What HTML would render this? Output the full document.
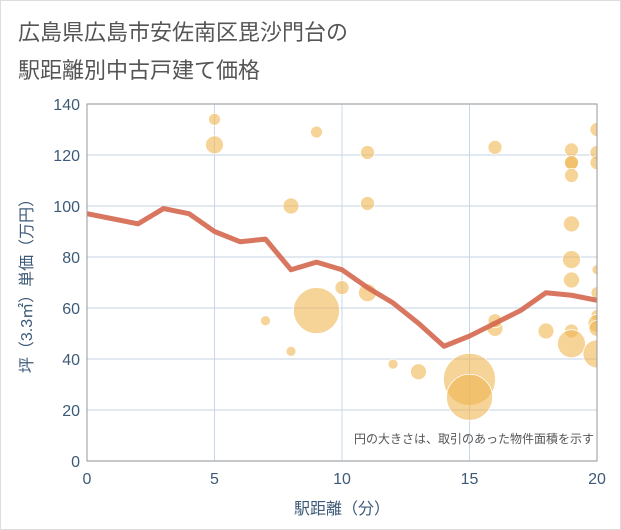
<!DOCTYPE html>
<html><head><meta charset="utf-8"><style>
body{margin:0;background:#fff;}
svg{display:block;font-family:"Liberation Sans","Noto Sans CJK JP",sans-serif;}
</style></head><body>
<svg width="621" height="530">
<rect x="0.5" y="0.5" width="620" height="529" fill="#fff" stroke="#ddd"/>
<text x="18" y="40" font-size="22" fill="#555">広島県広島市安佐南区毘沙門台の</text>
<text x="18" y="78" font-size="22" fill="#555">駅距離別中古戸建て価格</text>
<g id="grid"></g>
<g id="bubbles"></g>
<g id="line"></g>
<rect x="87" y="104" width="510" height="357" fill="none" stroke="#999"/>
<g id="ticks"></g>
<text x="594" y="443" font-size="12" fill="#555" text-anchor="end">円の大きさは、取引のあった物件面積を示す</text>
<text x="342" y="514" font-size="16" fill="#3d5a78" text-anchor="middle">駅距離（分）</text>
<text transform="translate(32,282) rotate(-90)" font-size="16" fill="#3d5a78" text-anchor="middle">坪（3.3㎡）単価（万円）</text>
</svg>
<script>
const xTicks=[0,5,10,15,20];
const yTicks=[0,20,40,60,80,100,120,140];
const lineX=[0,1,2,3,4,5,6,7,8,9,10,11,12,13,14,15,16,17,18,19,20];
const lineY=[97,95,93,99,97,90,86,87,75,78,75,68,62,54,45,49,54,59,66,65,63];
const bubX=[5,5,9,8,7,9,8,10,11,11,11,12,13,15,15,16,16,16,18,19,19,19,19,19,19,19,19,19,20,20,20,20,20,20,20,20,20];
const bubY=[134,124,129,100,55,59,43,68,121,101,66,38,35,32,25,123,52,55,51,122,117,117,112,93,79,71,51,46,130,121,117,75,66,57,54,52,42];
const bubS=[6,9,6,8,5,23,5,7,7,7,9,5,8,26,23,7,8,7,8,7,7,7,7,8,9,8,7,14,7,7,7,5,6,6,9,8,14];
const NS='http://www.w3.org/2000/svg';
const sx=v=>87+v*25.5, sy=v=>461-v*2.55;
function mk(t,a,p){const e=document.createElementNS(NS,t);for(const k in a)e.setAttribute(k,a[k]);p.appendChild(e);return e;}
const grid=document.getElementById('grid'),ticks=document.getElementById('ticks');
yTicks.forEach(v=>{
 const l=mk('line',{x1:87,x2:597,y1:sy(v),y2:sy(v),stroke:'#d0dce8','stroke-width':1.2},grid);
 
 
 const t=mk('text',{x:80,y:sy(v)+6,'font-size':16,fill:'#3d5a78','text-anchor':'end'},ticks);t.textContent=v;
 
 
});
xTicks.forEach(v=>{
 const l=mk('line',{x1:sx(v),x2:sx(v),y1:104,y2:461,stroke:'#c8d8e8','stroke-width':1},grid);
 
 
 const t=mk('text',{x:sx(v),y:484,'font-size':16,fill:'#3d5a78','text-anchor':'middle'},ticks);t.textContent=v;
 
 
});
const bg=document.getElementById('bubbles');
mk('clipPath',{id:'clip'},bg).appendChild(document.createElementNS(NS,'rect'));
const cr=bg.querySelector('clipPath rect');cr.setAttribute('x',87);cr.setAttribute('y',104);cr.setAttribute('width',510);cr.setAttribute('height',357);
bg.setAttribute('clip-path','url(#clip)');
bubX.forEach((x,i)=>{
 const c=mk('circle',{cx:sx(x),cy:sy(bubY[i]),r:bubS[i],fill:'#f0b551','fill-opacity':0.6,stroke:'#fff','stroke-width':0.8},bg);
 
 
});
const pts=lineX.map((x,i)=>sx(x)+','+sy(lineY[i])).join(' ');
const pl=mk('polyline',{points:pts,fill:'none',stroke:'#d4674f','stroke-width':5,'stroke-linejoin':'round','stroke-opacity':0.9},document.getElementById('line'));


</script>
</body></html>
